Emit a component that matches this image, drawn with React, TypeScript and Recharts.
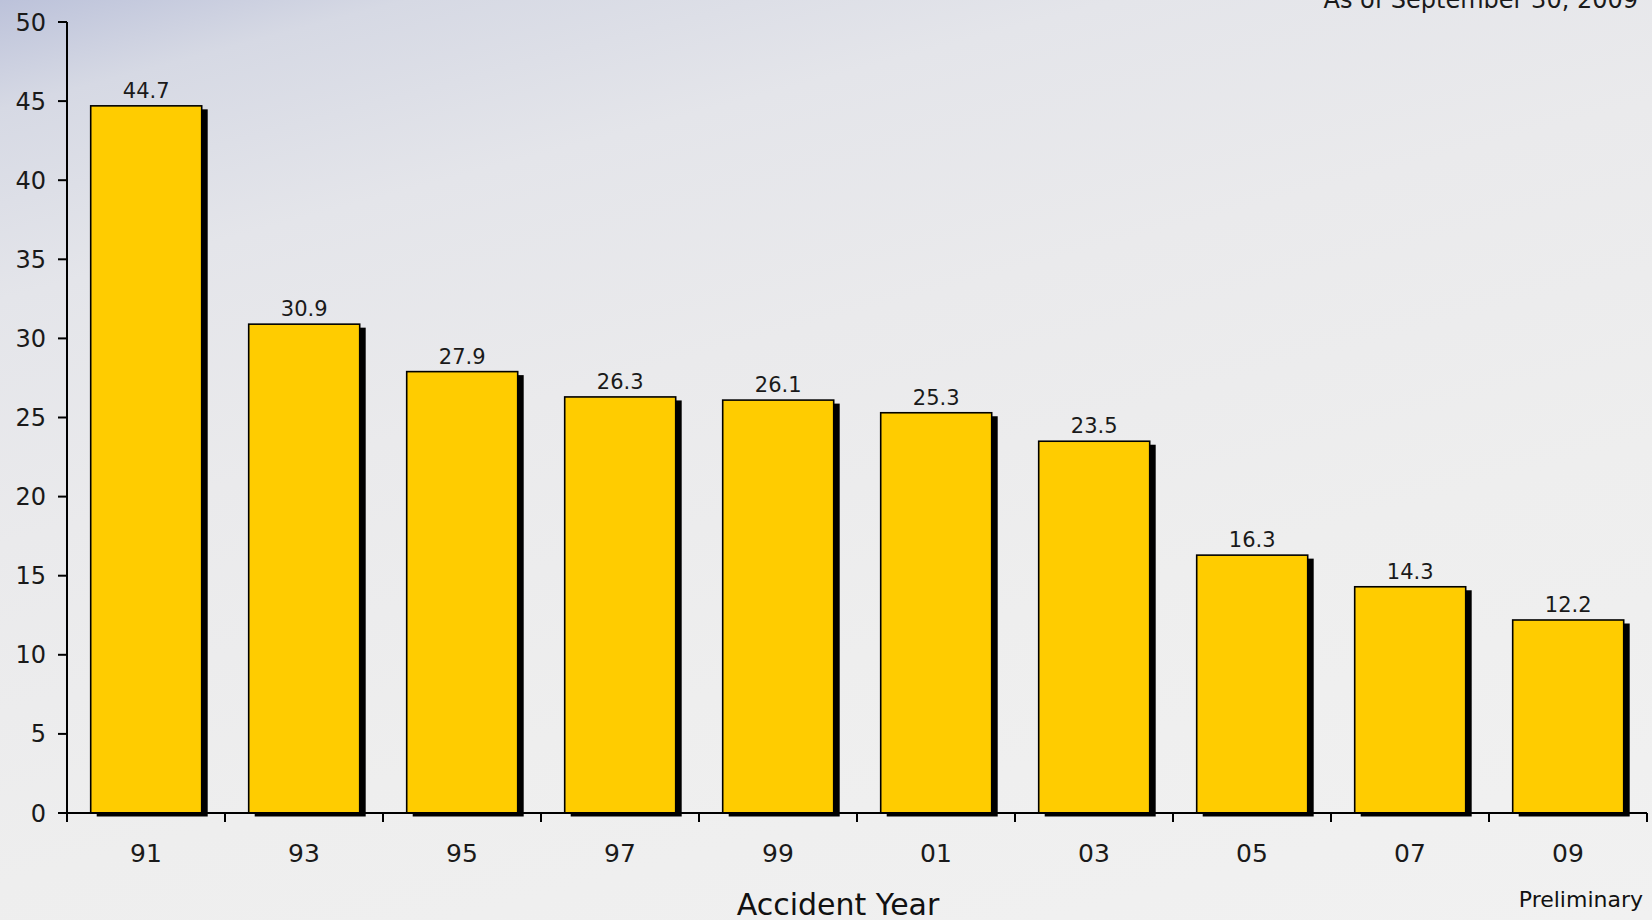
import React from "react";
import {
  Bar,
  BarChart,
  LabelList,
  XAxis,
  YAxis,
} from "recharts";

const years = ["91", "93", "95", "97", "99", "01", "03", "05", "07", "09"];
const frequency = [44.7, 30.9, 27.9, 26.3, 26.1, 25.3, 23.5, 16.3, 14.3, 12.2];
const yTicks = [0, 5, 10, 15, 20, 25, 30, 35, 40, 45, 50];

const WIDTH = 1652;
const HEIGHT = 920;
const MARGIN = { top: 22, right: 5, bottom: 0, left: 0 };
const Y_AXIS_W = 67;
const X_AXIS_H = 107;
const FONT = "'DejaVu Sans', sans-serif";

const chartData = years.map((year, i) => ({ year, value: frequency[i] }));
const halfBand = (WIDTH - MARGIN.right - Y_AXIS_W) / years.length / 2;

type ShapeProps = { x?: number; y?: number; width?: number; height?: number };

function ShadowBar({ x = 0, y = 0, width = 0, height = 0 }: ShapeProps) {
  return (
    <g>
      <rect x={x + 6} y={y + 3.5} width={width} height={height} fill="#000" />
      <rect
        x={x}
        y={y}
        width={width}
        height={height}
        fill="#FFCC00"
        stroke="#000"
        strokeWidth={1.6}
      />
    </g>
  );
}

type TickProps = {
  x?: number;
  y?: number;
  index?: number;
  payload?: { value: string };
};

// tick marks sit on the category boundaries, labels in the middle
function YearTick({ x = 0, y = 0, index = 0, payload }: TickProps) {
  const isLast = index === years.length - 1;
  return (
    <g>
      <line x1={x - halfBand} x2={x - halfBand} y1={y} y2={y + 9} stroke="#000" strokeWidth={2} />
      {isLast && (
        <line x1={x + halfBand} x2={x + halfBand} y1={y} y2={y + 9} stroke="#000" strokeWidth={2} />
      )}
      <text x={x} y={y + 49} textAnchor="middle" fontSize={25} fill="#1a1a1a" fontFamily={FONT}>
        {payload?.value}
      </text>
    </g>
  );
}

export default function App() {
  return (
    <div
      style={{
        position: "fixed",
        left: 0,
        top: 0,
        width: WIDTH,
        height: HEIGHT,
        overflow: "hidden",
        background:
          "linear-gradient(165deg, #bcc2da 0%, #d6d9e4 8%, #e4e5ea 22%, #eaeaec 40%, #eeeeee 65%, #f1f1f1 100%)",
      }}
    >
      <BarChart
        width={WIDTH}
        height={HEIGHT}
        data={chartData}
        margin={MARGIN}
        barCategoryGap="15%"
      >
        <XAxis
          dataKey="year"
          height={X_AXIS_H}
          axisLine={{ stroke: "#000", strokeWidth: 2 }}
          tickLine={false}
          tickSize={0}
          tickMargin={0}
          tick={<YearTick />}
          interval={0}
        />
        <XAxis
          xAxisId="top"
          orientation="top"
          dataKey="year"
          height={0}
          axisLine={{ stroke: "#000", strokeWidth: 2 }}
          tick={false}
          tickLine={false}
        />
        <YAxis
          width={Y_AXIS_W}
          domain={[0, 50]}
          ticks={yTicks}
          interval={0}
          axisLine={{ stroke: "#000", strokeWidth: 2 }}
          tickLine={{ stroke: "#000", strokeWidth: 2 }}
          tickSize={9}
          tickMargin={12}
          tick={{ fontSize: 24, fill: "#1a1a1a", fontFamily: FONT }}
        />
        <YAxis
          yAxisId="right"
          orientation="right"
          width={0}
          domain={[0, 50]}
          axisLine={{ stroke: "#000", strokeWidth: 2 }}
          tick={false}
          tickLine={false}
        />
        <Bar dataKey="value" shape={<ShadowBar />} isAnimationActive={false}>
          <LabelList
            dataKey="value"
            position="top"
            offset={8}
            fontSize={21}
            fill="#1a1a1a"
            fontFamily={FONT}
            formatter={(v: number) => v.toFixed(1)}
          />
        </Bar>
      </BarChart>
      <svg
        width={WIDTH}
        height={HEIGHT}
        style={{ position: "absolute", left: 0, top: 0, pointerEvents: "none" }}
      >
        <text x={1638} y={8} textAnchor="end" fontSize={24} fill="#1a1a1a" fontFamily={FONT}>
          As of September 30, 2009
        </text>
        <text x={838} y={915} textAnchor="middle" fontSize={30} fill="#111" fontFamily={FONT}>
          Accident Year
        </text>
        <text x={1643} y={907} textAnchor="end" fontSize={22} fill="#111" fontFamily={FONT}>
          Preliminary
        </text>
      </svg>
    </div>
  );
}
